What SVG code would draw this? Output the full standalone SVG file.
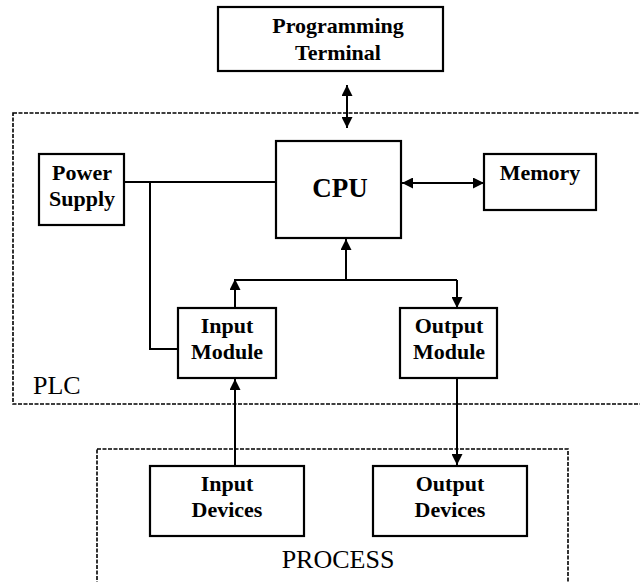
<svg xmlns="http://www.w3.org/2000/svg" width="640" height="582" viewBox="0 0 640 582">
<style>
.box{fill:#fff;stroke:#000;stroke-width:2.2}
.dash{fill:none;stroke:#000;stroke-width:1.6;stroke-dasharray:4 1.5}
.lbl{font-family:"Liberation Serif","Times New Roman",serif;font-weight:bold;font-size:22px;text-anchor:middle;fill:#000}
.big{font-size:27px}
.reg{font-family:"Liberation Serif","Times New Roman",serif;font-size:26px;fill:#000}
.ln{fill:none;stroke:#000;stroke-width:2}
</style>
<defs>
<marker id="ah" viewBox="0 0 10 10" refX="10" refY="5" markerWidth="5.5" markerHeight="5.5" orient="auto-start-reverse" markerUnits="strokeWidth">
<path d="M0,0 L10,5 L0,10 z" fill="#000"/>
</marker>
</defs>
<g id="plc">
<rect class="dash" x="13" y="113" width="640" height="291"/>
<text class="reg" x="33" y="394">PLC</text>
</g>
<g id="process">
<rect class="dash" x="97" y="449" width="471" height="150"/>
<text class="reg" x="338" y="568" text-anchor="middle">PROCESS</text>
</g>
<g id="connectors">
<line class="ln" x1="347" y1="85" x2="347" y2="128" marker-start="url(#ah)" marker-end="url(#ah)"/>
<line class="ln" x1="402" y1="183" x2="484" y2="183" marker-start="url(#ah)" marker-end="url(#ah)"/>
<polyline class="ln" points="124,182 276,182"/>
<polyline class="ln" points="150,182 150,349 178,349"/>
<line class="ln" x1="346" y1="280" x2="346" y2="239" marker-end="url(#ah)"/>
<line class="ln" x1="235" y1="280" x2="457" y2="280"/>
<line class="ln" x1="235" y1="308" x2="235" y2="279" marker-end="url(#ah)"/>
<line class="ln" x1="457" y1="280" x2="457" y2="308" marker-end="url(#ah)"/>
<line class="ln" x1="235" y1="466" x2="235" y2="379" marker-end="url(#ah)"/>
<line class="ln" x1="457" y1="379" x2="457" y2="465" marker-end="url(#ah)"/>
</g>
<g id="terminal">
<rect class="box" x="218" y="7" width="225" height="64"/>
<text class="lbl" x="338" y="33">Programming</text>
<text class="lbl" x="338" y="60">Terminal</text>
</g>
<g id="power">
<rect class="box" x="39" y="154" width="85" height="71"/>
<text class="lbl" x="82" y="180">Power</text>
<text class="lbl" x="82" y="206">Supply</text>
</g>
<g id="cpu">
<rect class="box" x="276" y="141" width="125" height="97"/>
<text class="lbl big" x="340" y="197">CPU</text>
</g>
<g id="memory">
<rect class="box" x="484" y="154" width="112" height="56"/>
<text class="lbl" x="540" y="180">Memory</text>
</g>
<g id="inmod">
<rect class="box" x="178" y="308" width="98" height="70"/>
<text class="lbl" x="227" y="333">Input</text>
<text class="lbl" x="227" y="359">Module</text>
</g>
<g id="outmod">
<rect class="box" x="400" y="308" width="97" height="70"/>
<text class="lbl" x="449" y="333">Output</text>
<text class="lbl" x="449" y="359">Module</text>
</g>
<g id="indev">
<rect class="box" x="150" y="466" width="154" height="70"/>
<text class="lbl" x="227" y="491">Input</text>
<text class="lbl" x="227" y="517">Devices</text>
</g>
<g id="outdev">
<rect class="box" x="373" y="466" width="154" height="70"/>
<text class="lbl" x="450" y="491">Output</text>
<text class="lbl" x="450" y="517">Devices</text>
</g>
</svg>
